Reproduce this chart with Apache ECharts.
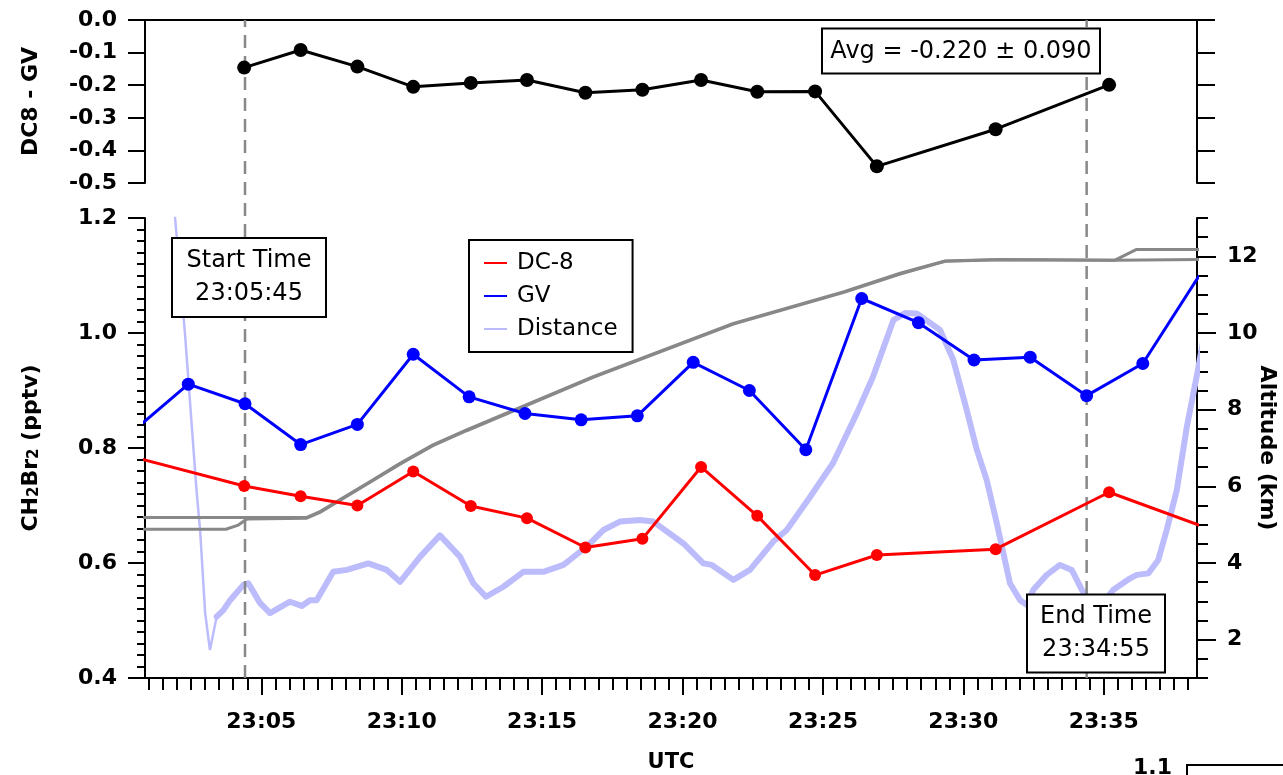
<!DOCTYPE html>
<html><head><meta charset="utf-8">
<script src="https://cdn.jsdelivr.net/npm/echarts@6/dist/echarts.min.js"></script>
<style>html,body{margin:0;padding:0;background:#fff;}#c{width:1283px;height:775px;}</style>
</head><body><div id="c"></div>
<script>
// All times are minutes after 23:00 UTC
const dc8Times  = [0.32, 4.39, 6.40, 8.42, 10.41, 12.46, 14.46, 16.54, 18.57, 20.66, 22.66, 24.72, 26.92, 31.15, 35.19, 39.50];
const dc8Values = [0.786, 0.734, 0.716, 0.700, 0.759, 0.699, 0.678, 0.627, 0.642, 0.767, 0.682, 0.579, 0.614, 0.624, 0.723, 0.646];

const gvTimes  = [0.38, 2.40, 4.42, 6.40, 8.42, 10.41, 12.40, 14.39, 16.39, 18.39, 20.38, 22.38, 24.39, 26.38, 28.40, 30.38, 32.38, 34.39, 36.39, 38.40];
const gvValues = [0.827, 0.911, 0.877, 0.806, 0.841, 0.963, 0.889, 0.860, 0.849, 0.856, 0.949, 0.900, 0.797, 1.060, 1.018, 0.953, 0.958, 0.891, 0.947, 1.100];

const diffTimes  = [4.39, 6.40, 8.42, 10.41, 12.46, 14.46, 16.54, 18.57, 20.66, 22.66, 24.72, 26.92, 31.15, 35.19];
const diffValues = [-0.146, -0.092, -0.143, -0.205, -0.193, -0.184, -0.223, -0.214, -0.184, -0.220, -0.219, -0.449, -0.335, -0.199];

const distTimes = [1.75,1.93,2.28,2.70,2.82,3.00,3.17,3.41,3.65,3.89,
  4.36,4.54,4.95,5.31,6.02,6.44,6.73,6.97,7.56,8.04,
  8.81,9.47,9.94,10.65,11.36,12.08,12.55,13.00,13.62,14.33,
  15.04,15.76,16.59,17.18,17.77,18.49,18.96,20.03,20.74,21.04,
  21.81,22.40,23.23,23.71,24.54,25.36,26.21,26.78,27.51,27.92,
  28.34,29.17,29.64,30.12,30.48,30.83,31.19,31.66,32.02,32.27,
  32.49,32.97,33.44,33.86,34.22,34.76,35.34,35.94,36.18,36.59,
  36.94,37.24,37.60,37.96,38.33,38.61];
const distValues = [14.51,13.00,10.00,5.83,4.86,2.70,1.73,2.60,2.77,3.03,
  3.43,3.47,2.96,2.69,2.99,2.88,3.03,3.03,3.77,3.82,
  3.99,3.82,3.51,4.16,4.72,4.16,3.47,3.12,3.38,3.77,
  3.77,3.95,4.43,4.86,5.08,5.12,5.08,4.51,3.99,3.95,
  3.56,3.82,4.56,4.86,5.72,6.61,7.91,8.85,10.34,10.52,
  10.51,10.08,9.30,7.99,6.95,6.17,5.04,3.47,3.03,2.90,
  3.30,3.69,3.95,3.82,3.30,2.77,3.30,3.60,3.69,3.73,
  4.08,4.86,5.90,7.56,8.95,10.08];

const alt1Times  = [0.50, 6.62, 7.09, 8.98, 9.94, 11.11, 12.31, 16.82, 21.81, 25.75, 27.75, 29.35, 31.30, 35.40, 38.60];
const alt1Values = [5.19, 5.19, 5.34, 6.17, 6.60, 7.08, 7.47, 8.86, 10.25, 11.08, 11.56, 11.88, 11.92, 11.90, 11.92];
const alt2Times  = [0.50, 3.74, 4.18, 4.49, 6.62, 7.09, 8.98, 9.94, 11.11, 12.31, 16.82, 21.81, 25.75, 27.75, 29.35, 31.30, 35.40, 36.17, 38.60];
const alt2Values = [4.88, 4.88, 4.99, 5.15, 5.17, 5.32, 6.15, 6.58, 7.06, 7.45, 8.84, 10.23, 11.06, 11.54, 11.87, 11.91, 11.90, 12.18, 12.18];

const markerTimes = [4.42, 34.39];

const xTickLabels = [5, 10, 15, 20, 25, 30, 35];
const leftTicks = [0.4, 0.6, 0.8, 1.0, 1.2];
const rightTicks = [2, 4, 6, 8, 10, 12];
const diffTicks = [-0.5, -0.4, -0.3, -0.2, -0.1, 0.0];

const XMIN = 0.858, XMAX = 38.32;

function steps(a, b, s) { const r = []; const n = Math.round((b - a) / s); for (let i = 0; i <= n; i++) r.push(Math.round((a + i * s) * 1000) / 1000); return r; }
const xMinor = steps(1, 38, 0.5);
const leftMinor = steps(0.4, 1.2, 0.02);
const rightMinor = steps(1, 13, 0.5);

const pairs = (ts, vs) => ts.map((t, i) => [t, vs[i]]);
const FONT = 'DejaVu Sans';
const axLine = { show: true, lineStyle: { color: '#000', width: 2 } };
const lbl = { fontFamily: FONT, fontWeight: 'bold', fontSize: 22, color: '#000' };
const nameStyle = { fontFamily: FONT, fontWeight: 'bold', fontSize: 21, color: '#000' };

const chart = echarts.init(document.getElementById('c'), null, { renderer: 'canvas' });

const option = {
  animation: false,
  backgroundColor: '#fff',
  grid: [
    { left: 145, right: 86, top: 20, height: 163, containLabel: false, outerBoundsMode: 'none' },
    { left: 145, right: 86, top: 218, height: 460, containLabel: false, outerBoundsMode: 'none' },
    { left: 145, right: 86, top: 20, height: 658, containLabel: false, outerBoundsMode: 'none' }
  ],
  xAxis: [
    { type: 'value', gridIndex: 0, min: XMIN, max: XMAX, position: 'top', axisLine: axLine, axisTick: { show: false }, axisLabel: { show: false }, splitLine: { show: false } },
    { type: 'value', gridIndex: 1, min: XMIN, max: XMAX, position: 'bottom', axisLine: axLine,
      axisTick: { show: true, length: 17, lineStyle: { color: '#000', width: 2 }, customValues: xTickLabels },
      axisLabel: { ...lbl, margin: 33, customValues: xTickLabels, formatter: v => '23:' + String(Math.round(v)).padStart(2, '0') },
      splitLine: { show: false },
      name: 'UTC', nameLocation: 'middle', nameGap: 74, nameMoveOverlap: false, nameTextStyle: nameStyle },
    { type: 'value', gridIndex: 1, min: XMIN, max: XMAX, position: 'bottom', axisLine: { show: false },
      axisTick: { show: true, length: 12, lineStyle: { color: '#000', width: 2 }, customValues: xMinor },
      axisLabel: { show: false }, splitLine: { show: false } },
    { type: 'value', gridIndex: 2, min: XMIN, max: XMAX, show: false }
  ],
  yAxis: [
    { type: 'value', gridIndex: 0, min: -0.5, max: 0, position: 'left', axisLine: axLine,
      axisTick: { show: true, length: 17, lineStyle: { color: '#000', width: 2 }, customValues: diffTicks },
      axisLabel: { ...lbl, margin: 28, customValues: diffTicks, formatter: v => v.toFixed(1) },
      splitLine: { show: false },
      name: 'DC8 - GV', nameLocation: 'middle', nameGap: 103, nameMoveOverlap: false, nameTextStyle: { ...nameStyle, fontSize: 22 } },
    { type: 'value', gridIndex: 0, min: -0.5, max: 0, position: 'right', axisLine: axLine,
      axisTick: { show: true, length: 18, lineStyle: { color: '#000', width: 2 }, customValues: diffTicks },
      axisLabel: { show: false }, splitLine: { show: false } },
    { type: 'value', gridIndex: 1, min: 0.4, max: 1.2, position: 'left', axisLine: axLine,
      axisTick: { show: true, length: 17, lineStyle: { color: '#000', width: 2 }, customValues: leftTicks },
      axisLabel: { ...lbl, margin: 28, customValues: leftTicks, formatter: v => v.toFixed(1) },
      splitLine: { show: false },
      name: '{b|CH}{s|2}{b|Br}{s|2}{b| (pptv)}', nameLocation: 'middle', nameGap: 103, nameMoveOverlap: false,
      nameTextStyle: { ...nameStyle, rich: {
        b: { fontFamily: FONT, fontWeight: 'bold', fontSize: 22, lineHeight: 26, verticalAlign: 'bottom' },
        s: { fontFamily: FONT, fontWeight: 'bold', fontSize: 15, lineHeight: 20, verticalAlign: 'bottom' } } } },
    { type: 'value', gridIndex: 1, min: 0.4, max: 1.2, position: 'left', axisLine: { show: false },
      axisTick: { show: true, length: 8, lineStyle: { color: '#000', width: 2 }, customValues: leftMinor },
      axisLabel: { show: false }, splitLine: { show: false } },
    { type: 'value', gridIndex: 1, min: 1, max: 13, position: 'right', axisLine: axLine,
      axisTick: { show: true, length: 19, lineStyle: { color: '#000', width: 2 }, customValues: rightTicks },
      axisLabel: { ...lbl, margin: 30, customValues: rightTicks, formatter: v => String(v) },
      splitLine: { show: false },
      name: 'Altitude (km)', nameLocation: 'middle', nameGap: 59, nameRotate: -90, nameMoveOverlap: false, nameTextStyle: { ...nameStyle, fontSize: 22 } },
    { type: 'value', gridIndex: 1, min: 1, max: 13, position: 'right', axisLine: { show: false },
      axisTick: { show: true, length: 11, lineStyle: { color: '#000', width: 2 }, customValues: rightMinor },
      axisLabel: { show: false }, splitLine: { show: false } },
    { type: 'value', gridIndex: 2, min: 0, max: 1, show: false }
  ],
  legend: {
    data: ['DC-8', 'GV', 'Distance'], orient: 'vertical', left: 469, top: 240,
    icon: 'rect', itemWidth: 23, itemHeight: 2, itemGap: 7,
    padding: [10, 15, 10, 15], borderColor: '#000', borderWidth: 2, backgroundColor: '#fff',
    selectedMode: false,
    textStyle: { fontFamily: FONT, fontSize: 23, color: '#000', lineHeight: 26, padding: [0, 0, 0, 5] }
  },
  series: [
    { name: 'Distance', type: 'line', xAxisIndex: 1, yAxisIndex: 4, color: '#bcbcfc', showSymbol: false, symbol: 'none',
      lineStyle: { width: 2.5, color: '#bcbcfc' }, data: pairs(distTimes, distValues).slice(0, 9) },
    { name: 'Distance', type: 'line', xAxisIndex: 1, yAxisIndex: 4, color: '#bcbcfc', showSymbol: false, symbol: 'none',
      lineStyle: { width: 6, color: '#bcbcfc', cap: 'round', join: 'round' }, data: pairs(distTimes, distValues).slice(7) },
    { name: 'startMarker', type: 'line', xAxisIndex: 3, yAxisIndex: 6, symbol: 'none', silent: true,
      lineStyle: { color: '#888', width: 2.5, type: [13, 8] }, data: [[markerTimes[0], 0], [markerTimes[0], 1]] },
    { name: 'endMarker', type: 'line', xAxisIndex: 3, yAxisIndex: 6, symbol: 'none', silent: true,
      lineStyle: { color: '#888', width: 2.5, type: [13, 8] }, data: [[markerTimes[1], 0], [markerTimes[1], 1]] },
    { name: 'alt1', type: 'line', xAxisIndex: 1, yAxisIndex: 4, symbol: 'none', lineStyle: { color: '#888', width: 3 }, data: pairs(alt1Times, alt1Values) },
    { name: 'alt2', type: 'line', xAxisIndex: 1, yAxisIndex: 4, symbol: 'none', lineStyle: { color: '#888', width: 3 }, data: pairs(alt2Times, alt2Values) },
    { name: 'DC-8', type: 'line', xAxisIndex: 1, yAxisIndex: 2, color: '#ff0000', symbol: 'circle', symbolSize: 12, showSymbol: true,
      lineStyle: { color: '#ff0000', width: 3 }, itemStyle: { color: '#ff0000' }, data: pairs(dc8Times, dc8Values) },
    { name: 'GV', type: 'line', xAxisIndex: 1, yAxisIndex: 2, color: '#0000ff', symbol: 'circle', symbolSize: 13, showSymbol: true,
      lineStyle: { color: '#0000ff', width: 3 }, itemStyle: { color: '#0000ff' }, data: pairs(gvTimes, gvValues) },
    { name: 'diff', type: 'line', xAxisIndex: 0, yAxisIndex: 0, color: '#000', symbol: 'circle', symbolSize: 14, showSymbol: true,
      lineStyle: { color: '#000', width: 3 }, itemStyle: { color: '#000' }, data: pairs(diffTimes, diffValues) }
  ],
  graphic: [
    { type: 'rect', z: 100, shape: { x: 172, y: 238, width: 154, height: 79 }, style: { fill: '#fff', stroke: '#000', lineWidth: 2 } },
    { type: 'text', z: 101, x: 249, y: 277.5, style: { text: 'Start Time\n23:05:45', align: 'center', verticalAlign: 'middle', font: '24px "DejaVu Sans"', lineHeight: 33, fill: '#000' } },
    { type: 'rect', z: 100, shape: { x: 1027, y: 594.5, width: 138, height: 78 }, style: { fill: '#fff', stroke: '#000', lineWidth: 2 } },
    { type: 'text', z: 101, x: 1096, y: 633.5, style: { text: 'End Time\n23:34:55', align: 'center', verticalAlign: 'middle', font: '24px "DejaVu Sans"', lineHeight: 33, fill: '#000' } },
    { type: 'rect', z: 100, shape: { x: 822, y: 28.5, width: 278, height: 45 }, style: { fill: '#fff', stroke: '#000', lineWidth: 2 } },
    { type: 'text', z: 101, x: 961, y: 51.5, style: { text: 'Avg = -0.220 \u00b1 0.090', align: 'center', verticalAlign: 'middle', font: '24px "DejaVu Sans"', fill: '#000' } },
    { type: 'text', z: 101, x: 1172, y: 768, style: { text: '1.1', align: 'right', verticalAlign: 'middle', font: 'bold 22px "DejaVu Sans"', fill: '#000' } },
    { type: 'polyline', z: 101, shape: { points: [[1187, 776], [1187, 765], [1283, 765]] }, style: { stroke: '#000', lineWidth: 2, fill: null } }
  ]
};
chart.setOption(option);
</script></body></html>
